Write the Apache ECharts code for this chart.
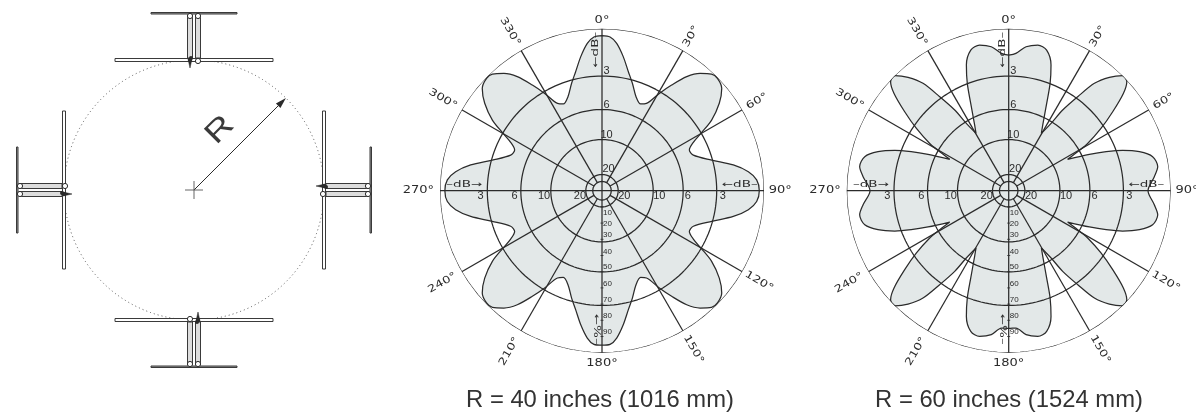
<!DOCTYPE html>
<html>
<head>
<meta charset="utf-8">
<style>html,body{margin:0;background:#fff}#chart{width:1196px;height:412px}</style>
<script src="https://cdn.jsdelivr.net/npm/echarts@6/dist/echarts.min.js"></script>
</head>
<body>
<div id="chart"></div>
<script>
// radial unit is relative field strength in percent, 100 = outer ring
const ringDb = ['3', '6', '10', '20'];
const ringValues = [100, 70.8, 50.1, 31.6, 10, 5.75];
const spokeAngles = [0, 30, 60, 90, 120, 150, 180, 210, 240, 270, 300, 330];
const angleLabels = ['0°', '30°', '60°', '90°', '120°', '150°', '180°', '210°', '240°', '270°', '300°', '330°'];
const percentTicks = [10, 20, 30, 40, 50, 60, 70, 80, 90];

// R = 40 inches
const angles40 = [
  0, 3, 5.7, 9, 12.5, 15.8, 19.9, 24, 27, 30.5, 33.4, 36.6, 39.9, 43.2, 45.8, 49.5, 53.3, 57.2, 59.9, 62.1, 65, 68.7, 74.4, 78.9, 82.6, 86,
  90, 94, 97.4, 101.1, 105.6, 111.3, 115, 117.9, 120.1, 122.8, 126.7, 130.5, 134.2, 136.8, 140.1, 143.4, 146.6, 149.5, 153, 156, 160.1, 164.2, 167.5, 171, 174.3, 177,
  180, 183, 185.7, 189, 192.5, 195.8, 199.9, 204, 207, 210.5, 213.4, 216.6, 219.9, 223.2, 225.8, 229.5, 233.3, 237.2, 239.9, 242.1, 245, 248.7, 254.4, 258.9, 262.6, 266,
  270, 274, 277.4, 281.1, 285.6, 291.3, 295, 297.9, 300.1, 302.8, 306.7, 310.5, 314.2, 316.8, 320.1, 323.4, 326.6, 329.5, 333, 336, 340.1, 344.2, 347.5, 351, 354.3, 357, 360
];
const pattern40 = [
  95.7, 95, 91.4, 83.8, 75.2, 68.9, 61.7, 58.6, 60.5, 69.7, 78.1, 87.7, 94.4, 98.8, 99.4, 97.2, 90.3, 80.5, 70.6, 63.8, 59.5, 60.5, 70.3, 82.6, 91.1, 95.7,
  97.1, 95.7, 91.1, 82.6, 70.3, 60.5, 59.5, 63.8, 70.6, 80.5, 90.3, 97.2, 99.4, 98.8, 94.4, 87.7, 78.1, 69.7, 60.5, 58.6, 61.7, 68.9, 75.2, 83.8, 91.4, 95,
  95.4, 95, 91.4, 83.8, 75.2, 68.9, 61.7, 58.6, 60.5, 69.7, 78.1, 87.7, 94.4, 98.8, 99.4, 97.2, 90.3, 80.5, 70.6, 63.8, 59.5, 60.5, 70.3, 82.6, 91.1, 95.7,
  97, 95.7, 91.1, 82.6, 70.3, 60.5, 59.5, 63.8, 70.6, 80.5, 90.3, 97.2, 99.4, 98.8, 94.4, 87.7, 78.1, 69.7, 60.5, 58.6, 61.7, 68.9, 75.2, 83.8, 91.4, 95, 95.7
];

// R = 60 inches
const angles60 = [
  0, 3, 6.9, 11.3, 15.1, 18.6, 21.1, 23.5, 27.4, 29.7, 32.2, 33.8, 36.3, 38.6, 41.6, 44.7, 47.3, 49.7, 52.8, 56, 59.1, 60.5, 62, 65.8, 68.2, 70.5, 73.4, 76.7, 80.8, 84.5,
  90, 95.5, 99.2, 103.3, 106.6, 109.5, 111.8, 114.2, 118, 119.5, 120.9, 124, 127.2, 130.3, 132.7, 135.3, 138.4, 141.4, 143.7, 146.2, 147.8, 150.3, 152.6, 156.5, 158.9, 161.4, 164.9, 168.7, 173.1, 177,
  180, 183, 186.9, 191.3, 195.1, 198.6, 201.1, 203.5, 207.4, 209.7, 212.2, 213.8, 216.3, 218.6, 221.6, 224.7, 227.3, 229.7, 232.8, 236, 239.1, 240.5, 242, 245.8, 248.2, 250.5, 253.4, 256.7, 260.8, 264.5,
  270, 275.5, 279.2, 283.3, 286.6, 289.5, 291.8, 294.2, 298, 299.5, 300.9, 304, 307.2, 310.3, 312.7, 315.3, 318.4, 321.4, 323.7, 326.2, 327.8, 330.3, 332.6, 336.5, 338.9, 341.4, 344.9, 348.7, 353.1, 357, 360
];
const pattern60 = [
  83.7, 84.9, 89.5, 91.7, 89.9, 81.9, 71, 58.8, 45.7, 40.7, 49.1, 59.9, 72, 84.8, 93.6, 100, 99.2, 92.8, 80.6, 68.7, 56.8, 48.9, 41.2, 54.6, 64.8, 74.6, 84.2, 91.3, 93.2, 90.3,
  86, 90.3, 93.2, 91.3, 84.2, 74.6, 64.8, 54.6, 41.2, 48.9, 56.8, 68.7, 80.6, 92.8, 99.2, 100, 93.6, 84.8, 72, 59.9, 49.1, 40.7, 45.7, 58.8, 71, 81.9, 89.9, 91.7, 89.5, 84.9,
  85, 84.9, 89.5, 91.7, 89.9, 81.9, 71, 58.8, 45.7, 40.7, 49.1, 59.9, 72, 84.8, 93.6, 100, 99.2, 92.8, 80.6, 68.7, 56.8, 48.9, 41.2, 54.6, 64.8, 74.6, 84.2, 91.3, 93.2, 90.3,
  85.6, 90.3, 93.2, 91.3, 84.2, 74.6, 64.8, 54.6, 41.2, 48.9, 56.8, 68.7, 80.6, 92.8, 99.2, 100, 93.6, 84.8, 72, 59.9, 49.1, 40.7, 45.7, 58.8, 71, 81.9, 89.9, 91.7, 89.5, 84.9, 83.7
];

// antenna drawing, units are px from the array centre, [x0, r0, x1, r1] in top antenna position
const arrayRadius = 130;
const antennaTurns = [0, 90, 180, 270];
const tubes = [[-79, 128.5, 79, 131.5], [-43, 176, 43, 177.5], [-6.5, 132, -1.5, 175], [1.5, 132, 6.5, 175]];
const hubs = [[-4, 174], [4, 174], [4, 129]];
const feedPoints = [[-4, 130], [-3, 132]];
const tips = [[-6, 131, -4, 122, -2, 131]];

const ink = '#2b2b2b';
const panels = [
  {center: [602, 190.7], captionX: 595, angles: angles40, values: pattern40, caption: 'R = 40 inches (1016 mm)'},
  {center: [1008.7, 190.7], captionX: 1004, angles: angles60, values: pattern60, caption: 'R = 60 inches (1524 mm)'}
];

function zip(radii, angles) {
  return radii.map((r, i) => [r, angles[i]]);
}

function ringSeries(polarIndex, r) {
  const data = [];
  for (let a = 0; a <= 360; a += 2) data.push([r, a]);
  return {
    type: 'line', coordinateSystem: 'polar', polarIndex, data, z: 3, silent: true, clip: false,
    showSymbol: false, animation: false, lineStyle: {color: ink, width: 1.25}
  };
}

function spokeSeries(polarIndex, a) {
  // the four main axes run through the centre, the others stop on the inner ring
  const start = a % 90 === 0 ? 0 : ringValues[5];
  return {
    type: 'line', coordinateSystem: 'polar', polarIndex, data: [[start, a], [100, a]], z: 3, silent: true, clip: false,
    showSymbol: false, animation: false, lineStyle: {color: ink, width: 1.25}
  };
}

// stretched text, the original uses a wide lettering stencil
function textSeries(polarIndex, rows, font, stretch) {
  return {
    type: 'custom', coordinateSystem: 'polar', polarIndex, z: 5, silent: true, clip: false, animation: false,
    data: rows.map((row, i) => [row.r, row.a, i]),
    encode: {radius: 0, angle: 1},
    renderItem(params, api) {
      const row = rows[api.value(2)];
      const p = api.coord([row.r, row.a]);
      return {
        type: 'text', x: p[0] + (row.dx || 0), y: p[1] + (row.dy || 0),
        rotation: (row.rot || 0) * Math.PI / 180, scaleX: stretch, scaleY: 1,
        style: {text: row.text, font, fill: ink, align: 'center', verticalAlign: 'middle'}
      };
    }
  };
}

function labelRotation(a) {
  if (a % 90 === 0) return 0;
  return 90 - a % 180;
}

const angleLabelRadius = [105.3, 110, 110.5, 110, 112, 113, 106.6, 114.5, 113.8, 113.4, 113.4, 113.4];
const dbLabelRadius = {0: [74, 53, 34.4, 13.2], 90: [74.5, 53, 35.4, 13.8], 270: [75, 54, 35.8, 13.6]};
const percentLabelRadius = [13.4, 20.2, 27.4, 37.7, 46.9, 57.2, 67.5, 77.4, 87];

function panelSeries(panel, polarIndex) {
  const out = [{
    type: 'line', coordinateSystem: 'polar', polarIndex, clip: false,
    data: zip(panel.values, panel.angles), smooth: 0.3, showSymbol: false, animation: false, z: 2,
    lineStyle: {color: ink, width: 1.25}, areaStyle: {color: '#e3e8e8', opacity: 1}
  }];
  ringValues.forEach(r => out.push(ringSeries(polarIndex, r)));
  spokeAngles.forEach(a => out.push(spokeSeries(polarIndex, a)));

  out.push(textSeries(polarIndex, spokeAngles.map((a, i) => ({
    r: angleLabelRadius[i], a, text: angleLabels[i], rot: labelRotation(a)
  })), '10px "DejaVu Sans"', 1.3));

  out.push(textSeries(polarIndex, [
    {r: 87, a: 0, dx: -6, text: '←dB–', rot: 90},
    {r: 85, a: 90, dy: -6, text: '←dB–'},
    {r: 85, a: 270, dy: -6, text: '–dB→'},
    {r: 85.5, a: 180, dx: -6, text: '←%–', rot: -90}
  ], '9px "DejaVu Sans"', 1.5));

  const ringText = [];
  ringDb.forEach((t, i) => {
    ringText.push({r: dbLabelRadius[0][i], a: 0, dx: i === 3 ? 6.5 : 4.5, text: t});
    ringText.push({r: dbLabelRadius[90][i], a: 90, dy: 5, text: t});
    ringText.push({r: dbLabelRadius[270][i], a: 270, dy: 5, text: t});
  });
  out.push(textSeries(polarIndex, ringText, '11px "Liberation Sans"', 1));

  out.push(textSeries(polarIndex, percentTicks.map((t, i) => ({
    r: percentLabelRadius[i], a: 180, dx: 5.5, text: String(t)
  })), '8px "Liberation Sans"', 1));

  out.push({
    type: 'scatter', coordinateSystem: 'polar', polarIndex, clip: false, silent: true, animation: false, z: 4,
    symbol: 'rect', symbolSize: [3, 1], itemStyle: {color: ink},
    data: percentTicks.map(t => [t, 180])
  });
  return out;
}

// left hand drawing of the four antenna array
function renderArray(params, api) {
  const turn = (deg, x, r) => {
    const t = deg * Math.PI / 180;
    return api.coord([x * Math.cos(t) + r * Math.sin(t), r * Math.cos(t) - x * Math.sin(t)]);
  };
  const children = [];
  const c0 = api.coord([0, 0]);
  const rPx = api.size([arrayRadius, 0])[0];
  children.push({type: 'circle', shape: {cx: c0[0], cy: c0[1], r: rPx},
    style: {fill: null, stroke: '#444', lineWidth: 0.9, lineDash: [1, 3]}});
  antennaTurns.forEach(deg => {
    tubes.forEach((t, i) => {
      children.push({type: 'polygon', shape: {points: [
        turn(deg, t[0], t[1]), turn(deg, t[2], t[1]), turn(deg, t[2], t[3]), turn(deg, t[0], t[3])
      ]}, style: {fill: i === 1 ? '#999' : i === 0 ? '#fff' : '#ddd', stroke: '#3a3a3a', lineWidth: 1}});
    });
    hubs.forEach(h => {
      const p = turn(deg, h[0], h[1]);
      children.push({type: 'circle', shape: {cx: p[0], cy: p[1], r: 2.6}, style: {fill: '#fff', stroke: ink, lineWidth: 1}});
    });
    feedPoints.forEach(h => {
      const p = turn(deg, h[0], h[1]);
      children.push({type: 'circle', shape: {cx: p[0], cy: p[1], r: 2}, style: {fill: ink}});
    });
    tips.forEach(t => {
      children.push({type: 'polygon', shape: {points: [turn(deg, t[0], t[1]), turn(deg, t[2], t[3]), turn(deg, t[4], t[5])]},
        style: {fill: ink, stroke: ink, lineWidth: 0.5}});
    });
  });
  // radius arrow and centre cross
  const k = arrayRadius * Math.SQRT1_2;
  const end = api.coord([k, k]);
  const back = api.coord([k - 7.5, k - 7.5]);
  const side1 = api.coord([k - 10, k - 5.5]);
  const side2 = api.coord([k - 5.5, k - 10]);
  children.push({type: 'line', shape: {x1: c0[0], y1: c0[1], x2: back[0], y2: back[1]}, style: {stroke: ink, lineWidth: 1}});
  children.push({type: 'polygon', shape: {points: [end, side1, side2]}, style: {fill: ink}});
  children.push({type: 'line', shape: {x1: c0[0] - 9, y1: c0[1], x2: c0[0] + 9, y2: c0[1]}, style: {stroke: '#555', lineWidth: 0.9}});
  children.push({type: 'line', shape: {x1: c0[0], y1: c0[1] - 9, x2: c0[0], y2: c0[1] + 9}, style: {stroke: '#555', lineWidth: 0.9}});
  children.push({type: 'text', x: c0[0] + 26, y: c0[1] - 60, rotation: Math.PI / 4, scaleX: 1.25,
    style: {text: 'R', font: '30px "Liberation Sans"', fill: '#3a3a3a', align: 'center', verticalAlign: 'middle'}});
  return {type: 'group', children};
}

const chart = echarts.init(document.getElementById('chart'), null, {renderer: 'canvas'});

chart.setOption({
  backgroundColor: '#fff',
  animation: false,
  title: panels.map(p => ({
    text: p.caption, left: p.captionX, top: 383, textAlign: 'center',
    textStyle: {fontFamily: 'Liberation Sans', fontSize: 23.8, fontWeight: 'normal', color: '#333'}
  })),
  grid: {left: 0, top: 0, width: 390, height: 380, show: false},
  xAxis: {type: 'value', min: -194, max: 196, show: false},
  yAxis: {type: 'value', min: -190, max: 190, show: false},
  polar: panels.map(p => ({center: p.center, radius: 162})),
  radiusAxis: panels.map((p, i) => ({polarIndex: i, type: 'value', min: 0, max: 100, show: false})),
  angleAxis: panels.map((p, i) => ({polarIndex: i, type: 'value', min: 0, max: 360, startAngle: 90, show: false})),
  series: [
    {type: 'custom', coordinateSystem: 'cartesian2d', data: [[0, 0]], renderItem: renderArray, silent: true, clip: false},
    ...panelSeries(panels[0], 0),
    ...panelSeries(panels[1], 1)
  ]
});
</script>
</body>
</html>
